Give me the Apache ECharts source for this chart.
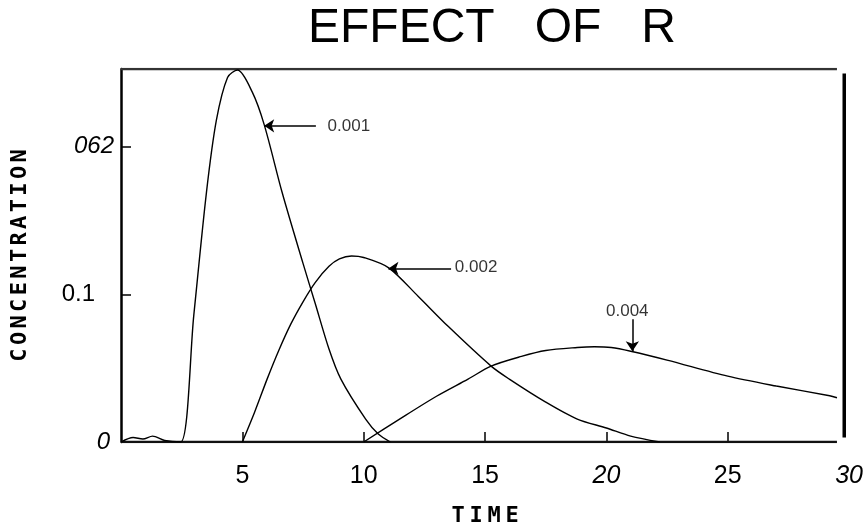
<!DOCTYPE html>
<html>
<head>
<meta charset="utf-8">
<script src="https://cdn.jsdelivr.net/npm/echarts@6/dist/echarts.min.js"></script>
<style>html,body{margin:0;padding:0;background:#fff;}#c{width:866px;height:532px;}</style>
</head>
<body>
<div id="c"></div>
<script>
// ---- data (time, concentration) ----
var r001 = [[0,0],[0.5,0.003],[0.9,0.002],[1.3,0.004],[1.8,0.001],[2.46,0],[3.0,0.086],[3.52,0.169],[3.93,0.218],[4.39,0.247],[4.8,0.252],[5.41,0.237],[5.9,0.215],[6.64,0.169],[7.5,0.121],[8.0,0.094],[8.57,0.063],[9.06,0.0426],[10.08,0.0155],[10.6,0.0054],[11.1,0]];
var r002 = [[5.0,0],[5.5,0.02],[6.02,0.0426],[6.5,0.062],[7.0,0.08],[7.5,0.095],[8.0,0.108],[8.57,0.119],[9.0,0.124],[9.5,0.126],[10.0,0.125],[11.03,0.118],[12.25,0.0986],[13.5,0.078],[15.25,0.0514],[16.0,0.0426],[17.5,0.027],[18.8,0.0155],[20,0.0095],[21.0,0.004],[22.2,0]];
var r004 = [[10.0,0],[11.43,0.015],[13.0,0.031],[14.3,0.0426],[15.25,0.0514],[16.5,0.058],[17.5,0.062],[18.8,0.064],[19.5,0.0645],[20.2,0.064],[21.0,0.0615],[22.5,0.0555],[25,0.0446],[27,0.0379],[29.2,0.0313],[29.5,0.030]];
var baseline = [[0,0],[29.5,0]];
var frameTop = [[0,0.2527],[29.5,0.2527]];
var frameRight = [[29.8,0.003],[29.8,0.2497]];

var xTickValues = [5,10,15,20,25,30];
var xTickLabels = ['5','10','15','20','25','30'];
var xTickItalic = [false,false,false,true,false,true];
var yTickValues = [0,0.1,0.2];
var yTickLabels = ['0','0.1','062'];
var yTickItalic = [true,false,true];

var annoNames = ['0.001','0.002','0.004'];
var annoText = [[9.39,0.2142],[14.63,0.1182],[20.86,0.0885]];
var arrowFrom = [[8.03,0.2142],[13.6,0.1176],[21.07,0.0831]];
var arrowTo = [[5.9,0.2142],[11.02,0.1176],[21.07,0.0615]];

var FONT = '"Liberation Sans", Arial, sans-serif';
var MONO = '"DejaVu Sans Mono", monospace';

// y label individual right offsets (style only)
var yLabelPad = [4, 19, 0];

function xFmt(v) {
  for (var i = 0; i < xTickValues.length; i++) {
    if (Math.abs(xTickValues[i] - v) < 1e-9) {
      return (xTickItalic[i] ? '{i|' : '{n|') + xTickLabels[i] + '}';
    }
  }
  return '';
}
function yFmt(v) {
  for (var i = 0; i < yTickValues.length; i++) {
    if (Math.abs(yTickValues[i] - v) < 1e-9) {
      return '{y' + i + '|' + yTickLabels[i] + '}';
    }
  }
  return '';
}
var xRich = {
  n: {fontFamily: FONT, fontSize: 25, color: '#000'},
  i: {fontFamily: FONT, fontSize: 25, color: '#000', fontStyle: 'italic'}
};
var yRich = {};
for (var q = 0; q < yTickValues.length; q++) {
  yRich['y' + q] = {fontFamily: FONT, fontSize: 24, color: '#000',
    fontStyle: yTickItalic[q] ? 'italic' : 'normal', padding: [0, yLabelPad[q], 0, 0]};
}

function spaced(word) {
  return word.split('').map(function (ch) { return '{c|' + ch + '}'; }).join('');
}

function curve(name, data) {
  return {
    name: name, type: 'line', data: data, showSymbol: false, smooth: 0.3,
    lineStyle: {color: '#000', width: 1.4}, silent: true, z: 3
  };
}
function frame(data, w, c) {
  return {type: 'line', data: data, showSymbol: false, lineStyle: {color: c, width: w}, silent: true, z: 2};
}

var arrows = [];
for (var k = 0; k < arrowFrom.length; k++) {
  arrows.push([{coord: arrowFrom[k]}, {coord: arrowTo[k]}]);
}
var annoData = [];
for (var j = 0; j < annoNames.length; j++) {
  annoData.push({name: annoNames[j], value: annoText[j]});
}

var chart = echarts.init(document.getElementById('c'), null, {renderer: 'canvas'});
chart.setOption({
  animation: false,
  backgroundColor: '#fff',
  title: {
    text: 'EFFECT   OF   R', left: 487, top: 0, textAlign: 'center',
    textStyle: {fontFamily: FONT, fontSize: 48, fontWeight: 'normal', color: '#000'}
  },
  grid: {left: 121, right: 13, top: 69, bottom: 89},
  xAxis: {
    type: 'value', min: 0, max: 30,
    name: spaced('TIME'), nameLocation: 'middle', nameGap: 63,
    nameTextStyle: {rich: {c: {fontFamily: MONO, fontSize: 22, fontWeight: 'bold', color: '#000', width: 18, align: 'center'}}},
    axisLine: {show: false},
    axisTick: {show: true, inside: true, length: 10, customValues: [5,10,15,20,25], lineStyle: {color: '#000', width: 1.5}},
    axisLabel: {customValues: xTickValues, margin: 22, formatter: xFmt, rich: xRich},
    splitLine: {show: false}
  },
  yAxis: {
    type: 'value', min: 0, max: 0.2527,
    name: spaced('CONCENTRATION'), nameLocation: 'middle', nameGap: 90, nameRotate: 90,
    nameTextStyle: {rich: {c: {fontFamily: MONO, fontSize: 22, fontWeight: 'bold', color: '#000', width: 16.6, align: 'center'}}},
    axisLine: {show: true, lineStyle: {color: '#000', width: 2.5}},
    axisTick: {show: true, inside: true, length: 10, customValues: [0.1,0.2], lineStyle: {color: '#000', width: 1.5}},
    axisLabel: {customValues: yTickValues, margin: 7, formatter: yFmt, rich: yRich},
    splitLine: {show: false}
  },
  series: [
    frame(baseline, 2.5, '#111'),
    frame(frameTop, 2.5, '#333'),
    frame(frameRight, 3.5, '#000'),
    curve('0.001', r001),
    curve('0.002', r002),
    curve('0.004', r004),
    {
      type: 'scatter', data: annoData, symbolSize: 0, silent: true, z: 5,
      label: {show: true, position: 'inside', formatter: '{b}', fontFamily: FONT, fontSize: 17, color: '#000'},
      markLine: {
        silent: true, symbol: ['none', 'arrow'], symbolSize: 10, animation: false,
        itemStyle: {color: '#000'},
        lineStyle: {color: '#000', width: 1.5, type: 'solid'}, label: {show: false},
        data: arrows
      }
    }
  ]
});
</script>
</body>
</html>
